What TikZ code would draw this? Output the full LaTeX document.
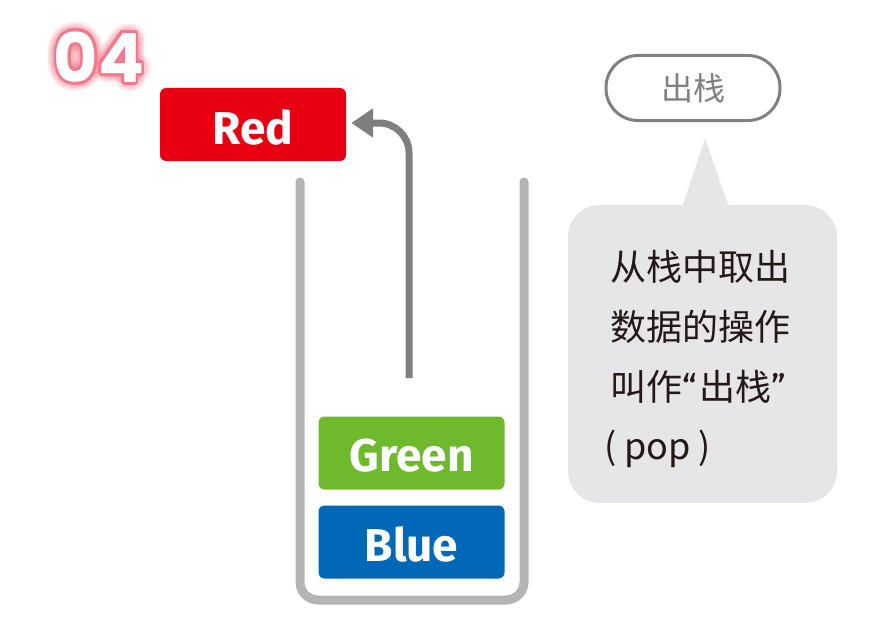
\documentclass[tikz,border=0pt]{standalone}
\usepackage{fontspec}
\setmainfont{Fira Sans}
\newfontfamily\cjk{Noto Sans CJK SC}
\newfontfamily\numf{Poppins}
\usetikzlibrary{arrows.meta}
\definecolor{redc}{HTML}{E60012}
\definecolor{greenc}{HTML}{6FB92C}
\definecolor{bluec}{HTML}{0068B7}
\definecolor{arrowc}{HTML}{7F7F7F}
\definecolor{cupc}{HTML}{B4B4B4}
\definecolor{pillc}{HTML}{808080}
\definecolor{bubblec}{HTML}{E6E5E8}
\definecolor{txtc}{HTML}{231815}
\definecolor{pinkc}{HTML}{EE7A8B}
\tikzset{
  databox/.style={fill=#1, rounded corners=6pt, minimum width=186pt, minimum height=73pt,
    text=white, font=\bfseries\fontsize{46}{50}\selectfont, inner sep=0pt},
  bubbletext/.style={anchor=base west, text=txtc, inner sep=0pt, font=\cjk\fontsize{36}{40}\selectfont},
  numfont/.style={font=\numf\bfseries\fontsize{68}{70}\selectfont, inner sep=0pt}
}
\newcommand{\dn}[1]{\raisebox{-2.5pt}[\height][0pt]{#1}}
\begin{document}
\begin{tikzpicture}[x=1pt,y=-1pt]
\useasboundingbox (0,0) rectangle (887,618);
% "04": glow, pink outline, white fill
\foreach \r in {10,8,6} {
  \foreach \a in {0,30,...,330} {
    \node[numfont, text=pinkc, opacity=0.07] at ([shift={(\a:\r pt)}]99,57) {04};
  }
}
\foreach \a in {0,20,...,340} {
  \node[numfont, text=pinkc] at ([shift={(\a:2.8pt)}]99,57) {04};
}
\node[numfont, text=white] (num) at (99,57) {04};

% cup
\draw[cupc, line width=9pt, line cap=round, rounded corners=18pt]
  (300,182) -- (300,600) -- (524,600) -- (524,182);

% data boxes
\node[databox=redc] (red) at (253,124.5) {\dn{Red}};
\node[databox=greenc] (green) at (411.5,453) {\dn{Green}};
\node[databox=bluec] (blue) at (411.5,542) {\dn{Blue}};

% arrow
\coordinate (astart) at (409,378);
\draw[arrowc, line width=7pt, rounded corners=30pt, -{Triangle[length=22pt,width=28pt]}]
  (astart) |- ([xshift=5pt,yshift=1.5pt]red.east);

% pill
\node[draw=pillc, line width=3pt, fill=white, rounded corners=32pt, minimum width=174pt,
  minimum height=65pt, text=pillc, font=\cjk\fontsize{32}{36}\selectfont] (pill) at (693,88) {出栈};

% callout bubble
\fill[bubblec] (682,207) -- (705,138) -- (729,207) -- cycle;
\fill[bubblec, rounded corners=32pt] (568,205) rectangle (837,503);

\node[bubbletext] (l1) at (610,280) {从栈中取出};
\node[bubbletext] (l2) at (610,340) {数据的操作};
\node[bubbletext] (l3) at (610,400) {叫作{\fontspec{Fira Sans}“}\kern3pt 出栈{\fontspec{Fira Sans}”}};
\node[bubbletext] (l4) at (604,459) {( pop )};
\end{tikzpicture}
\end{document}
